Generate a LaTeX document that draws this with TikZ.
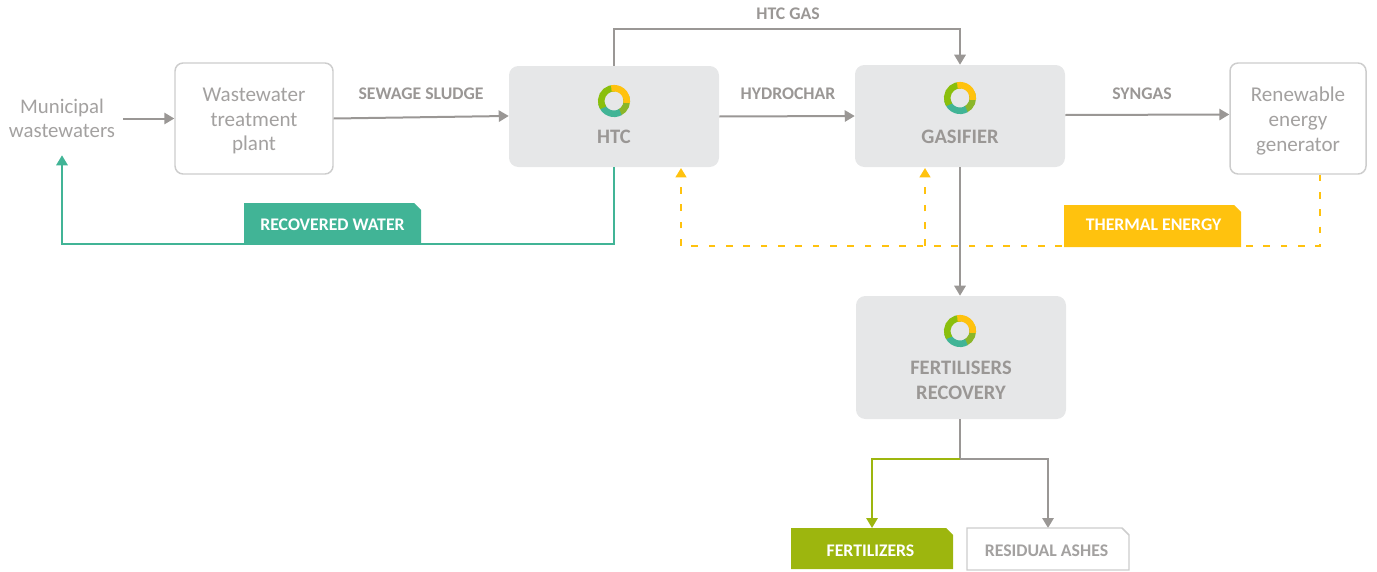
\documentclass[tikz,border=0pt]{standalone}
\usepackage{fontspec}
\setmainfont{Carlito}
\usetikzlibrary{arrows.meta}
\definecolor{flowgray}{HTML}{9A9795}
\definecolor{txtgray}{HTML}{A3A1A0}
\definecolor{boxfill}{HTML}{E6E7E8}
\definecolor{boxline}{HTML}{CDCDCD}
\definecolor{wgreen}{HTML}{41B496}
\definecolor{tyellow}{HTML}{FFC20E}
\definecolor{folive}{HTML}{9DB60E}
\tikzset{
  x=0.75pt,y=-0.75pt,
  flow/.style={draw=flowgray,line width=1.5pt,-{Triangle[length=7.5pt,width=8.5pt]}},
  dashflow/.style={draw=tyellow,line width=1.6pt,dash pattern=on 5pt off 8pt,-{Triangle[length=7pt,width=8pt]}},
  plainbox/.style={draw=boxline,line width=1.1pt,rounded corners=6pt,fill=white,inner sep=0pt},
  plaintext/.style={text=txtgray,font=\fontsize{15.8}{18.7}\selectfont,align=center,inner sep=0pt},
  procbox/.style={fill=boxfill,rounded corners=7pt,inner sep=0pt},
  proctext/.style={text=flowgray,font=\fontsize{15.4}{18.7}\selectfont\bfseries,align=center,inner sep=0pt},
  flabel/.style={text=flowgray,font=\fontsize{13.3}{15}\selectfont\bfseries,inner sep=0pt},
  tagtext/.style={font=\fontsize{13.3}{15}\selectfont\bfseries,inner sep=0pt},
  ringarc/.style={line width=4.9pt,line cap=butt},
}
% #1 = draw options, #2..#5 = left, top, right, bottom in pixels
\newcommand{\tagshape}[5]{%
  \path[#1] (#2,#3) -- ({#4-7},#3) -- (#4,{#3+7}) -- (#4,#5) -- (#2,#5) -- cycle;}
\newcommand{\ringlogo}[1]{%
  \begin{scope}[shift={#1}]
    \draw[ringarc,folive!80!wgreen] (-65:9.6pt) arc[start angle=-65,end angle=20,radius=9.6pt];
    \draw[ringarc,wgreen] (190:9.6pt) arc[start angle=190,end angle=300,radius=9.6pt];
    \draw[ringarc,folive!88!green] (85:9.6pt) arc[start angle=85,end angle=212,radius=9.6pt];
    \draw[ringarc,tyellow] (-8:9.6pt) arc[start angle=-8,end angle=102,radius=9.6pt];
  \end{scope}}
\begin{document}
\begin{tikzpicture}
\useasboundingbox (0,0) rectangle (1377,571);

% nodes
\node[text=txtgray,font=\fontsize{15.6}{18}\selectfont,align=center,inner sep=0pt,minimum width=122*0.75pt,minimum height=73*0.75pt] (muni) at (62,118.5) {Municipal\\wastewaters};
\node[plainbox,minimum width=158*0.75pt,minimum height=111*0.75pt] (wwtp) at (254,118.5) {};
\node[plaintext] (wwtpt) at (254,121) {Wastewater\\treatment\\plant};
\node[procbox,minimum width=210*0.75pt,minimum height=101*0.75pt] (htc) at (614,116.5) {};
\node[proctext] (htct) at (614,137) {HTC};
\node[procbox,minimum width=210*0.75pt,minimum height=102*0.75pt] (gas) at (960,116) {};
\node[proctext] (gast) at (960,137) {GASIFIER};
\node[plainbox,minimum width=136*0.75pt,minimum height=111*0.75pt] (gen) at (1298,118.5) {};
\node[plaintext] (gent) at (1298,121) {Renewable\\energy\\generator};
\node[procbox,minimum width=210*0.75pt,minimum height=123*0.75pt] (fert) at (961,357.5) {};
\node[proctext] (fertt) at (961,380) {FERTILISERS\\RECOVERY};

\ringlogo{(614,101)}
\ringlogo{(960,98)}
\ringlogo{(960,331)}

\node[flabel] (l1) at (421,93.5) {SEWAGE SLUDGE};
\node[flabel] (l2) at (788,93.5) {HYDROCHAR};
\node[flabel] (l3) at (1142,93.5) {SYNGAS};
\node[flabel] (l4) at (788,13.5) {HTC GAS};

% free ends and junctions
\coordinate (fzin) at (872,528);
\coordinate (rain) at (1048,528);
\coordinate (gasup) at (960,29);
\coordinate (htcup) at (614,29);
\coordinate (rwc) at (62,244);
\coordinate (rwh) at (614,244);
\coordinate (yg) at (1320,246);
\coordinate (yh) at (681,246);
\coordinate (yhEnd) at (681,168);
\coordinate (ygj) at (925,246);
\coordinate (ygEnd) at (925,168);
\coordinate (split) at (960,459);

% connectors
\draw[flow] (muni.east) -- (wwtp.west);
\draw[flow] (wwtp.east) -- ([yshift=0.4pt]htc.west);
\draw[flow] (htc.east) -- (gas.west);
\draw[flow] ([yshift=0.75pt]gas.east) -- ([yshift=3pt]gen.west);
\draw[flow] (htc.north) -- (htcup) -- (gasup) -- (gas.north);
\draw[flow] (gas.south) -- (gas.south |- fert.north);
\draw[flow,draw=wgreen] (htc.south) -- (rwh) -- (rwc) -- (muni.south);
\draw[dashflow] (gen.south -| yg) -- (yg) -- (yh) -- (yhEnd);
\draw[dashflow] (ygj) -- (ygEnd);
\draw[flow] (fert.south -| split) -- (split) -| (rain);
\draw[flow,draw=folive] (split) -| (fzin);

% tags
\tagshape{fill=wgreen}{244}{203}{421}{244}
\node[tagtext,text=white] (rwt) at (332.5,224.5) {RECOVERED WATER};
\tagshape{fill=tyellow}{1064}{205}{1241}{247}
\node[tagtext,text=white] (tet) at (1153.5,224.5) {THERMAL ENERGY};
\tagshape{fill=folive}{791}{528}{953}{569}
\node[tagtext,text=white] (fzt) at (870.5,550.5) {FERTILIZERS};
\tagshape{draw=boxline,line width=1.1pt,fill=white}{967}{528}{1129}{570}
\node[tagtext,text=txtgray] (rat) at (1046.5,551) {RESIDUAL ASHES};
\end{tikzpicture}
\end{document}
